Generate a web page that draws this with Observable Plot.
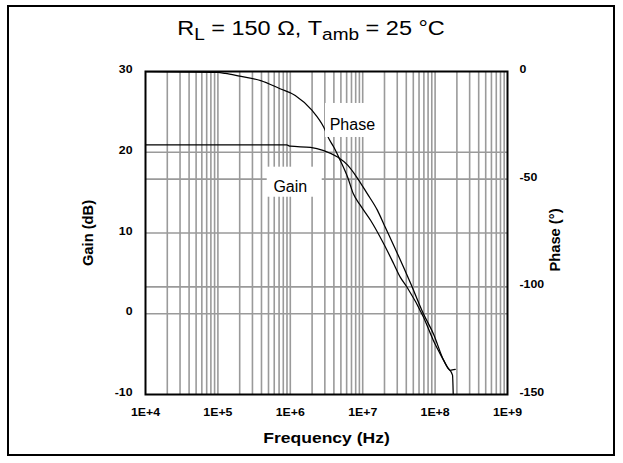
<!DOCTYPE html>
<html><head><meta charset="utf-8">
<script src="https://cdn.jsdelivr.net/npm/d3@7"></script>
<script src="https://cdn.jsdelivr.net/npm/@observablehq/plot@0.6"></script>
<style>
html,body{margin:0;padding:0;background:#fff;}
#chart{width:623px;height:463px;}
</style></head><body><div id="chart"></div>
<script>
// ---- data ----
const gainFreq  = [1.0e4, 8.9e5, 1.0e6, 1.9e6, 2.9e6, 4.5e6, 6.2e6, 8.3e6, 1.15e7, 1.6e7, 2.05e7, 2.7e7, 4.6e7, 6.9e7, 9.5e7, 1.32e8, 1.62e8, 1.9e8];
const gainDb    = [20.9, 20.9, 20.75, 20.6, 20.2, 19.4, 18.4, 16.9, 14.9, 12.8, 10.7, 8.4, 3.75, 0.0, -2.5, -5.8, -7.0, -6.9];
const phaseFreq = [1.0e4, 1.0e5, 1.26e5, 2.0e5, 3.9e5, 7.2e5, 1.17e6, 2.0e6, 2.9e6, 3.4e6, 4.0e6, 4.9e6, 6.2e6, 7.4e6, 9.3e6, 1.29e7, 1.95e7, 2.7e7, 3.3e7, 4.1e7, 6.9e7, 9.5e7, 1.17e8, 1.48e8, 1.74e8, 1.78e8];
const phaseDeg  = [0, -0.4, -0.9, -2.2, -4.2, -8.0, -11.1, -18.1, -25.9, -31.1, -35.2, -41.3, -49.1, -56.7, -62.2, -69.2, -80, -89.5, -95.5, -100.2, -114, -125, -131, -137.3, -141, -150];

const freqTicks = [1e4, 1e5, 1e6, 1e7, 1e8, 1e9];
const freqTickLabels = ["1E+4", "1E+5", "1E+6", "1E+7", "1E+8", "1E+9"];
const gainTicks = [30, 20, 10, 0, -10];
const phaseTicks = [0, -50, -100, -150];
const gainDomain = [-10, 30];
const phaseDomain = [-150, 0];

const seriesLabels = ["Gain", "Phase"];
const labelFreq = [1.0e6, 7.2e6];
const labelGain = [15.68, 23.41];
const boxFreq1 = [4.8e5, 3.06e6];
const boxFreq2 = [2.76e6, 1.55e7];
const boxGain1 = [14.43, 21.83];
const boxGain2 = [18.15, 26.04];

// ---- helpers ----
const phaseToGain = p => gainDomain[0] + (p - phaseDomain[0]) * (gainDomain[1] - gainDomain[0]) / (phaseDomain[1] - phaseDomain[0]);
const gainRows = gainFreq.map((f, i) => ({f, v: gainDb[i]}));
const phaseRows = phaseFreq.map((f, i) => ({f, v: phaseToGain(phaseDeg[i])}));
const labelRows = seriesLabels.map((s, i) => ({s, f: labelFreq[i], g: labelGain[i], f1: boxFreq1[i], f2: boxFreq2[i], g1: boxGain1[i], g2: boxGain2[i]}));

const vGrid = [];
for (let k = 4; k <= 8; k++) for (let m = 1; m <= 9; m++) { const v = m * 10 ** k; if (v > 1e4) vGrid.push(v); }
const hGrid = [20, 10, 0, phaseToGain(-50), phaseToGain(-100)];
const phasePos = phaseTicks.map(phaseToGain);

const FONT = "'Liberation Sans', Arial, Helvetica, sans-serif";
const gridColor = "#9a9a9a";
const titleText = {fontSize: 14, fontWeight: "bold", textAnchor: "middle", lineAnchor: "middle"};

const plot = Plot.plot({
  width: 623, height: 463,
  marginLeft: 145, marginRight: 116, marginTop: 71, marginBottom: 69,
  style: {fontFamily: FONT, background: "white", color: "black", overflow: "visible"},
  x: {type: "log", domain: [1e4, 1e9]},
  y: {domain: gainDomain},
  marks: [
    Plot.ruleX(vGrid, {stroke: gridColor, strokeWidth: 1.6}),
    Plot.ruleY(hGrid, {stroke: gridColor, strokeWidth: 1.6}),
    Plot.line(gainRows, {x: "f", y: "v", stroke: "black", strokeWidth: 1.25, curve: "monotone-x"}),
    Plot.line(phaseRows, {x: "f", y: "v", stroke: "black", strokeWidth: 1.25, curve: "monotone-x"}),
    Plot.rect(labelRows, {x1: "f1", x2: "f2", y1: "g1", y2: "g2", fill: "white"}),
    Plot.text(labelRows, {x: "f", y: "g", text: "s", fontSize: 16, fill: "black"}),
    Plot.frame({stroke: "black", strokeWidth: 2}),
    Plot.axisX(freqTicks, {anchor: "bottom", tickSize: 0, tickPadding: 14, fontSize: 11, fontWeight: "bold",
      tickFormat: d => freqTickLabels[freqTicks.indexOf(d)], label: null}),
    Plot.axisY(gainTicks, {anchor: "left", tickSize: 0, tickPadding: 13, fontSize: 11, fontWeight: "bold", dy: -2,
      tickFormat: d => String(d), label: null}),
    Plot.axisY(phasePos, {anchor: "right", tickSize: 0, tickPadding: 12, fontSize: 11, fontWeight: "bold", dy: -2,
      tickFormat: d => String(phaseTicks[phasePos.indexOf(d)]), label: null}),
    Plot.text(["Frequency (Hz)"], {frameAnchor: "bottom", dy: 44, ...titleText}),
    Plot.text(["Gain (dB)"], {frameAnchor: "left", dx: -57, rotate: -90, ...titleText}),
    Plot.text(["Phase (°)"], {frameAnchor: "right", dx: 48, dy: 7, rotate: -90, ...titleText})
  ]
});

document.getElementById("chart").appendChild(plot);
const svg = d3.select(plot);

// widen text horizontally like the reference (which is a stretched raster)
function stretch(sel, k) {
  sel.each(function() {
    const L = this.getComputedTextLength();
    if (L > 0) { this.setAttribute("textLength", (L * k).toFixed(2)); this.setAttribute("lengthAdjust", "spacingAndGlyphs"); }
  });
}
stretch(svg.selectAll("g[aria-label='x-axis tick label'] text, g[aria-label='y-axis tick label'] text"), 1.12);
svg.selectAll("g[aria-label='text'] text").each(function() {
  const s = this.textContent;
  if (s === "Frequency (Hz)") stretch(d3.select(this), 1.25);
  else if (s === "Gain (dB)" || s === "Phase (°)") stretch(d3.select(this), 1.05);
});

svg.append("rect").attr("x", 8).attr("y", 6).attr("width", 606).attr("height", 449)
  .attr("fill", "none").attr("stroke", "black").attr("stroke-width", 2);
const t = svg.append("text").attr("text-anchor", "middle")
  .attr("font-family", FONT).attr("font-size", 21).attr("fill", "black");
t.append("tspan").text("R");
t.append("tspan").attr("font-size", 17).attr("dy", 5).text("L");
t.append("tspan").attr("dy", -5).text(" = 150 Ω, T");
t.append("tspan").attr("font-size", 17).attr("dy", 5).text("amb");
t.append("tspan").attr("dy", -5).text(" = 25 °C");
const bb = t.node().getBBox();
const k = 268 / bb.width;
t.attr("transform", `translate(311,35) scale(${k.toFixed(3)},1)`);
</script></body></html>
